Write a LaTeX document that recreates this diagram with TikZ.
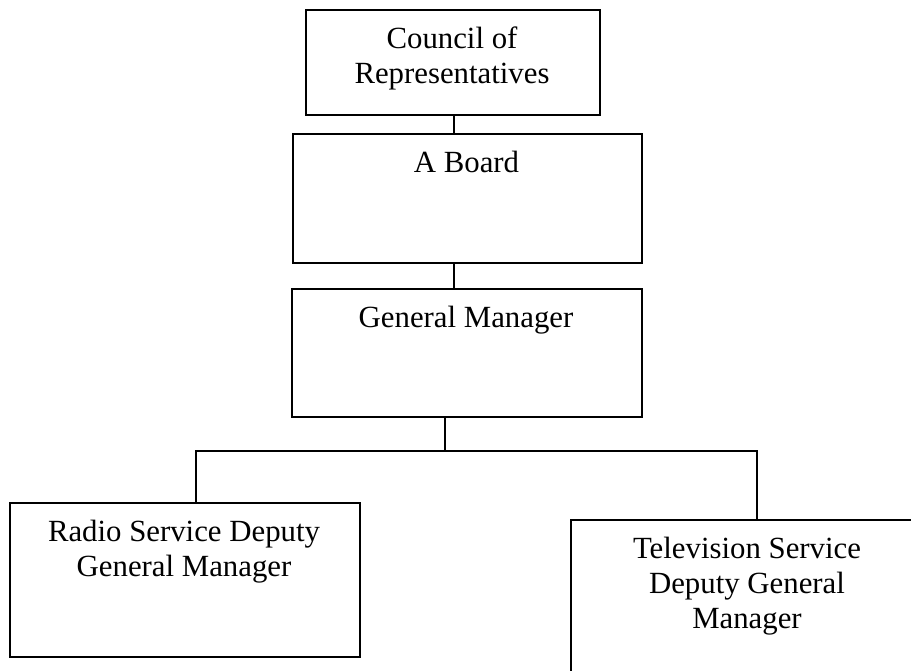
\documentclass[tikz,border=0pt]{standalone}
\usepackage{fontspec}
\setmainfont{Liberation Serif}
\begin{document}
\begin{tikzpicture}[x=0.75pt,y=-0.75pt,
  box/.style={draw=black,line width=1.4pt,rectangle,inner sep=0pt,anchor=north west},
  lbl/.style={anchor=base,align=center,inner sep=0pt,font=\fontsize{23.1pt}{26.25pt}\selectfont},
  link/.style={draw=black,line width=1.4pt}]
\useasboundingbox (0,0) rectangle (911,671);
\clip (0,0) rectangle (911,671);
% boxes
\node[box,minimum width=294*0.75pt,minimum height=105*0.75pt] (council) at (305,9) {};
\node[box,minimum width=349*0.75pt,minimum height=129*0.75pt] (board) at (292,133) {};
\node[box,minimum width=350*0.75pt,minimum height=128*0.75pt] (gm) at (291,288) {};
\node[box,minimum width=350*0.75pt,minimum height=154*0.75pt] (radio) at (9,502) {};
\node[box,minimum width=360*0.75pt,minimum height=200*0.75pt] (tv) at (570,519) {};
% texts (base anchor = baseline of the last line)
\node[lbl] (councilT) at (452,83.5) {Council of\\Representatives};
\node[lbl] (boardT) at (466.5,172.5) {A Board};
\node[lbl] (gmT) at (466,327.5) {General Manager};
\node[lbl] (radioT) at (184,576.5) {Radio Service Deputy\\General Manager};
\node[lbl] (tvT) at (747,628.5) {Television Service\\Deputy General\\Manager};
% connector coordinates
\coordinate (j1) at (454,0);
\coordinate (bus) at (445,451);
\coordinate (busL) at (196,451);
\coordinate (busR) at (757,451);
% connectors
\draw[link] (council.south -| j1) -- (board.north -| j1);
\draw[link] (board.south -| j1) -- (gm.north -| j1);
\draw[link] (gm.south -| bus) -- (bus);
\draw[link] (radio.north -| busL) -- (busL) -- (busR) -- (tv.north -| busR);
\end{tikzpicture}
\end{document}
